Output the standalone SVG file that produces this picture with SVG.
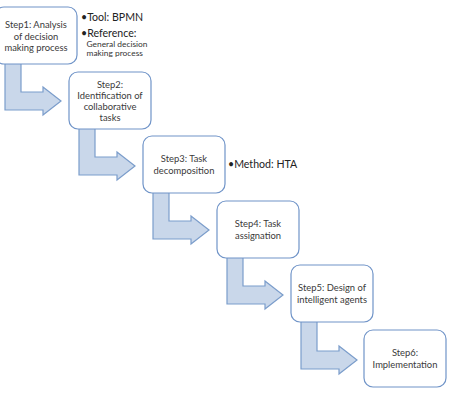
<svg xmlns="http://www.w3.org/2000/svg" width="451" height="401" viewBox="0 0 451 401">
  <defs>
    <style>
      .box { fill: #ffffff; stroke: #7094c8; stroke-width: 1.2; }
      .arrow { fill: #c9d7ea; stroke: #7b9dcb; stroke-width: 1.2; stroke-linejoin: miter; }
      .lbl { font-family: Lato, "Liberation Sans", Arial, sans-serif; font-size: 9.4px; fill: #3a3a3a; text-anchor: middle; }
      .note { font-family: Lato, "Liberation Sans", Arial, sans-serif; font-size: 10.6px; fill: #222222; }
      .note-sm { font-family: Lato, "Liberation Sans", Arial, sans-serif; font-size: 8.4px; fill: #333333; }
    </style>
  </defs>
  <rect width="451" height="401" fill="#ffffff"/>

  <!-- bent block arrows from each step to the next -->
  <g id="connectors">
    <path class="arrow" d="M 5,62 L 21,62 L 21,92 L 43,92 L 43,87 L 61,101 L 43,115 L 43,110 L 5,110 Z"/>
    <path class="arrow" d="M 79,127 L 95,127 L 95,157 L 117,157 L 117,152 L 135,166 L 117,180 L 117,175 L 79,175 Z"/>
    <path class="arrow" d="M 153,191 L 169,191 L 169,221 L 191,221 L 191,216 L 209,230 L 191,244 L 191,239 L 153,239 Z"/>
    <path class="arrow" d="M 227,256 L 243,256 L 243,286 L 265,286 L 265,281 L 283,295 L 265,309 L 265,304 L 227,304 Z"/>
    <path class="arrow" d="M 301,321 L 317,321 L 317,351 L 339,351 L 339,346 L 357,360 L 339,374 L 339,369 L 301,369 Z"/>
  </g>

  <g id="step1">
    <rect class="box" x="-5" y="7" width="82" height="57" rx="9"/>
    <text class="lbl" x="36" y="28.3">Step1: Analysis</text>
    <text class="lbl" x="36" y="39.5">of decision</text>
    <text class="lbl" x="36" y="50.7">making process</text>
  </g>

  <g id="step1-notes">
    <text class="note" x="81" y="20.8">•Tool: BPMN</text>
    <text class="note" x="81" y="36.8">•Reference:</text>
    <text class="note-sm" x="86.5" y="46.5">General decision</text>
    <text class="note-sm" x="86.5" y="56">making process</text>
  </g>

  <g id="step2">
    <rect class="box" x="69" y="72" width="82" height="57" rx="9"/>
    <text class="lbl" x="110" y="87.8">Step2:</text>
    <text class="lbl" x="110" y="99">Identification of</text>
    <text class="lbl" x="110" y="110.2">collaborative</text>
    <text class="lbl" x="110" y="121.4">tasks</text>
  </g>

  <g id="step3">
    <rect class="box" x="143" y="136" width="82" height="57" rx="9"/>
    <text class="lbl" x="184" y="162.3">Step3: Task</text>
    <text class="lbl" x="184" y="173.7">decomposition</text>
  </g>

  <g id="step3-notes">
    <text class="note" x="228" y="167.8">•Method: HTA</text>
  </g>

  <g id="step4">
    <rect class="box" x="217" y="201" width="82" height="57" rx="9"/>
    <text class="lbl" x="258" y="227.3">Step4: Task</text>
    <text class="lbl" x="258" y="238.7">assignation</text>
  </g>

  <g id="step5">
    <rect class="box" x="291" y="265" width="82" height="57" rx="9"/>
    <text class="lbl" x="332" y="291.3">Step5: Design of</text>
    <text class="lbl" x="332" y="302.7">intelligent agents</text>
  </g>

  <g id="step6">
    <rect class="box" x="364" y="330" width="82" height="57" rx="9"/>
    <text class="lbl" x="405" y="356.3">Step6:</text>
    <text class="lbl" x="405" y="367.7">Implementation</text>
  </g>
</svg>
